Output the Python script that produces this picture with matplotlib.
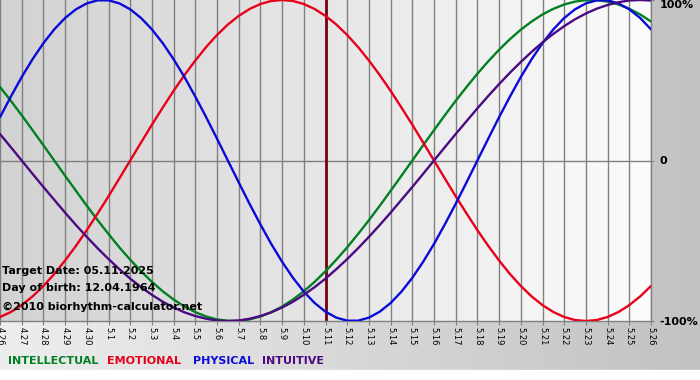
import numpy as np
import matplotlib
matplotlib.use("Agg")
import matplotlib.pyplot as plt

# x-axis dates (month.day)
dates = ["4.26", "4.27", "4.28", "4.29", "4.30", "5.1", "5.2", "5.3", "5.4", "5.5",
         "5.6", "5.7", "5.8", "5.9", "5.10", "5.11", "5.12", "5.13", "5.14", "5.15",
         "5.16", "5.17", "5.18", "5.19", "5.20", "5.21", "5.22", "5.23", "5.24", "5.25", "5.26"]

# readings every half day, starting at 4.26
physical = [0.270, 0.398, 0.520, 0.631, 0.731, 0.817, 0.888, 0.942, 0.979, 0.998,
            0.998, 0.979, 0.942, 0.888, 0.817, 0.731, 0.631, 0.520, 0.398, 0.270,
            0.136, 0.000, -0.136, -0.270, -0.398, -0.520, -0.631, -0.731, -0.817, -0.888,
            -0.942, -0.979, -0.998, -0.998, -0.979, -0.942, -0.888, -0.817, -0.731, -0.631,
            -0.520, -0.398, -0.270, -0.136, 0.000, 0.136, 0.270, 0.398, 0.520, 0.631,
            0.731, 0.817, 0.888, 0.942, 0.979, 0.998, 0.998, 0.979, 0.942, 0.888,
            0.817]
emotional = [-0.975, -0.944, -0.901, -0.847, -0.782, -0.707, -0.623, -0.532, -0.434, -0.330,
             -0.223, -0.112, 0.000, 0.112, 0.223, 0.330, 0.434, 0.532, 0.623, 0.707,
             0.782, 0.847, 0.901, 0.944, 0.975, 0.994, 1.000, 0.994, 0.975, 0.944,
             0.901, 0.847, 0.782, 0.707, 0.623, 0.532, 0.434, 0.330, 0.223, 0.112,
             0.000, -0.112, -0.223, -0.330, -0.434, -0.532, -0.623, -0.707, -0.782, -0.847,
             -0.901, -0.944, -0.975, -0.994, -1.000, -0.994, -0.975, -0.944, -0.901, -0.847,
             -0.782]
intellectual = [0.458, 0.372, 0.282, 0.189, 0.095, 0.000, -0.095, -0.189, -0.282, -0.372,
                -0.458, -0.541, -0.618, -0.690, -0.756, -0.815, -0.866, -0.910, -0.945, -0.972,
                -0.990, -0.999, -0.999, -0.990, -0.972, -0.945, -0.910, -0.866, -0.815, -0.756,
                -0.690, -0.618, -0.541, -0.458, -0.372, -0.282, -0.189, -0.095, 0.000, 0.095,
                0.189, 0.282, 0.372, 0.458, 0.541, 0.618, 0.690, 0.756, 0.815, 0.866,
                0.910, 0.945, 0.972, 0.990, 0.999, 0.999, 0.990, 0.972, 0.945, 0.910,
                0.866]
intuitive = [0.165, 0.083, 0.000, -0.083, -0.165, -0.245, -0.325, -0.402, -0.476, -0.547,
             -0.614, -0.677, -0.736, -0.789, -0.837, -0.880, -0.916, -0.946, -0.969, -0.986,
             -0.997, -1.000, -0.997, -0.986, -0.969, -0.946, -0.916, -0.880, -0.837, -0.789,
             -0.736, -0.677, -0.614, -0.547, -0.476, -0.402, -0.325, -0.245, -0.165, -0.083,
             0.000, 0.083, 0.165, 0.245, 0.325, 0.402, 0.476, 0.547, 0.614, 0.677,
             0.736, 0.789, 0.837, 0.880, 0.916, 0.946, 0.969, 0.986, 0.997, 1.000,
             0.997]

target_date = "5.11"
y_ticks = [-1, 0, 1]
y_labels = ["-100%", "0", "100%"]

series = [("INTELLECTUAL", intellectual, "#008020"),
          ("EMOTIONAL", emotional, "#e8001a"),
          ("PHYSICAL", physical, "#0a0ad8"),
          ("INTUITIVE", intuitive, "#4b0a82")]

W, H = 700, 380
fig = plt.figure(figsize=(7, 3.8), dpi=100)

# figure background gradient
bg = fig.add_axes([0, 0, 1, 1], zorder=-10)
grad = np.linspace(0, 1, 256)[None, :]
bg.imshow(grad, extent=[0, 1, 0, 1], aspect="auto",
          cmap=matplotlib.colors.LinearSegmentedColormap.from_list("g", ["#eeeeee", "#c2c2c2"]),
          vmin=0, vmax=1)
bg.add_patch(plt.Rectangle((0, 0), 1, 10 / H, color="white", zorder=5))
bg.set_xlim(0, 1); bg.set_ylim(0, 1)
bg.axis("off")

left, right = 0 / W, 651 / W
top, bottom = 0 / H, 321 / H
ax = fig.add_axes([left, 1 - bottom, right - left, bottom - top])
xd = np.arange(len(dates))
ax.imshow(grad, extent=[0, len(dates) - 1, -1, 1], aspect="auto",
          cmap=matplotlib.colors.LinearSegmentedColormap.from_list("p", ["#d2d2d2", "#fcfcfc"]),
          vmin=0, vmax=1, zorder=0)
ax.set_xlim(0, len(dates) - 1)
ax.set_ylim(-1, 1)

for xi in xd:
    ax.axvline(xi, color="#808080", lw=1, zorder=1)
ax.axhline(0, color="#808080", lw=1, zorder=1)
ax.axvline(dates.index(target_date), color="#7a0010", lw=2, zorder=2)

for name, vals, col in series:
    xs = np.arange(len(vals)) * 0.5
    ax.plot(xs, vals, color=col, lw=1.7, zorder=3, solid_capstyle="round", solid_joinstyle="round")

for s in ["left", "top"]:
    ax.spines[s].set_visible(False)
for s in ["right", "bottom"]:
    ax.spines[s].set_color("#808080")
    ax.spines[s].set_linewidth(1)

ax.set_xticks(xd)
ax.set_xticklabels(dates, rotation=-90, fontsize=6, va="top", ha="center")
ax.tick_params(axis="x", length=3, color="#808080", pad=1.5)
ax.yaxis.tick_right()
ax.set_yticks(y_ticks)
ax.set_yticklabels(y_labels, fontsize=8, fontweight="bold")
ax.tick_params(axis="y", length=2, color="#808080", pad=4)
ax.get_yticklabels()[2].set_va("top")

tk = dict(fontsize=8, fontweight="bold", color="black", transform=fig.transFigure, ha="left", va="center")
fig.text(2 / W, 1 - 271 / H, "Target Date: 05.11.2025", **tk)
fig.text(2 / W, 1 - 288 / H, "Day of birth: 12.04.1964", **tk)
fig.text(2 / W, 1 - 307 / H, "©2010 biorhythm-calculator.net", **tk)

xpos = [8, 107, 193, 262]
for (name, vals, col), xp in zip(series, xpos):
    fig.text(xp / W, 1 - 361 / H, name, fontsize=8, fontweight="bold", color=col, ha="left", va="center")

fig.savefig("out.png", dpi=100)
